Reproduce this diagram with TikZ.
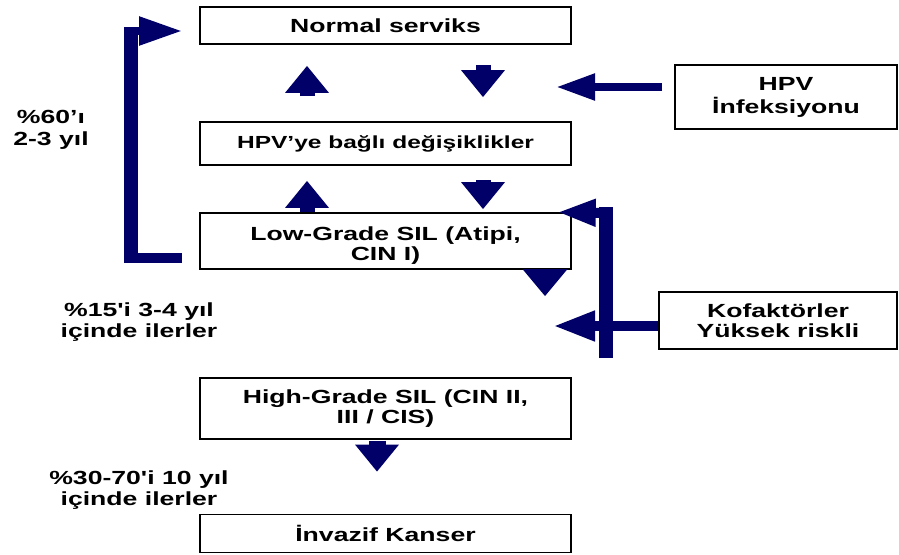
\documentclass[tikz,border=0pt]{standalone}
\usepackage{fontspec}
\newfontfamily\lf{Liberation Sans}[FakeStretch=1.4]
\usetikzlibrary{arrows.meta,calc}
\definecolor{navy}{RGB}{0,0,104}
\begin{document}
\begin{tikzpicture}[x=1pt,y=-1pt,
  box/.style={draw=black, line width=1.6pt, inner sep=0pt, align=center,
    font=\lf\bfseries\fontsize{19}{20.5}\selectfont},
  lbl/.style={align=center, inner sep=0pt,
    font=\lf\bfseries\fontsize{19}{21.5}\selectfont},
  blk/.style={draw=navy, line cap=butt, line join=miter},
  vup/.style={blk, line width=15pt, -{Triangle[length=27pt,width=42pt]}}
]
\useasboundingbox (0,0) rectangle (899,554);
% boxes
\node[box, minimum width=371pt, minimum height=37pt] (normal) at (385.5,25.5) {Normal serviks};
\node[box, minimum width=371pt, minimum height=43pt, font=\lf\bfseries\fontsize{17.5}{20}\selectfont] (hpvch) at (385.5,143.5) {HPV’ye bağlı değişiklikler};
\node[box, minimum width=371pt, minimum height=56pt,
  label={[align=center, inner sep=0pt, yshift=-4.5pt, font=\lf\bfseries\fontsize{19}{20}\selectfont]center:Low-Grade SIL (Atipi,\\CIN I)}] (low) at (385.5,241) {};
\node[box, minimum width=371pt, minimum height=61pt] (high) at (385.5,408.5) {High-Grade SIL (CIN II,\\III / CIS)};
\node[box, minimum width=371pt, minimum height=38pt] (inv) at (385.5,533.5) {İnvazif Kanser};
\node[box, minimum width=222pt, minimum height=64pt, font=\lf\bfseries\fontsize{19}{23}\selectfont] (hpvinf) at (786,97) {HPV\\İnfeksiyonu};
\node[box, minimum width=238pt, minimum height=57pt] (kof) at (778,320.5) {Kofaktörler\\Yüksek riskli};
% labels
\node[lbl] (l60) at (51,130) {\%60’ı\\2-3 yıl};
\node[lbl] (l15) at (139,322) {\%15'i 3-4 yıl\\içinde ilerler};
\node[lbl] (l30) at (139,490) {\%30-70'i 10 yıl\\içinde ilerler};
% columns
\coordinate (cL) at (307,0);
\coordinate (cR) at (483,0);
\coordinate (cM) at (545,0);
\coordinate (cH) at (377,0);
% vertical block arrows
\draw[vup, shorten <=25pt, shorten >=21pt] (hpvch.north -| cL) -- (normal.south -| cL);
\draw[vup, shorten <=20pt, shorten >=24pt] (normal.south -| cR) -- (hpvch.north -| cR);
\draw[vup, shorten >=15pt] (low.north -| cL) -- (hpvch.south -| cL);
\draw[vup, shorten <=14pt, shorten >=3pt] (hpvch.south -| cR) -- (low.north -| cR);
\draw[vup, -{Triangle[length=27pt,width=43pt]}, shorten >=81pt] (low.south -| cM) -- (high.north -| cM);
\draw[vup, line width=17pt, shorten <=1pt, shorten >=42pt] (high.south -| cH) -- (inv.north -| cH);
% HPV infection arrow
\coordinate (hpvtip) at (556,87);
\draw[blk, line width=8pt, -{Triangle[length=39pt,width=25pt]}, shorten <=12pt] (hpvinf.west |- hpvtip) -- (hpvtip);
% cofactor arrows
\coordinate (koftip) at (553,326);
\draw[blk, line width=10pt, -{Triangle[length=42pt,width=28pt]}] (kof.west |- koftip) -- (koftip);
\coordinate (ktop) at (605.5,213);
\coordinate (kbot) at (605.5,358);
\draw[blk, line width=14pt] (kbot) -- ($(ktop)+(0,-6)$);
\draw[blk, line width=10pt, -{Triangle[length=39pt,width=25pt]}] ($(ktop)+(7,0)$) -- ($(low.north east)+(-15,0)$);
% left bracket
\coordinate (bl) at (130.5,257.5);
\coordinate (tl) at (130.5,31);
\draw[blk, line width=10pt, shorten >=17pt] (bl) -- (low.west |- bl);
\draw[blk, line width=14pt] ($(bl)+(0,5)$) -- ($(tl)+(0,-4)$);
\draw[blk, line width=8pt, -{Triangle[length=43pt,width=27pt]}, shorten >=17pt] (tl) -- (normal.west |- tl);
\end{tikzpicture}
\end{document}
